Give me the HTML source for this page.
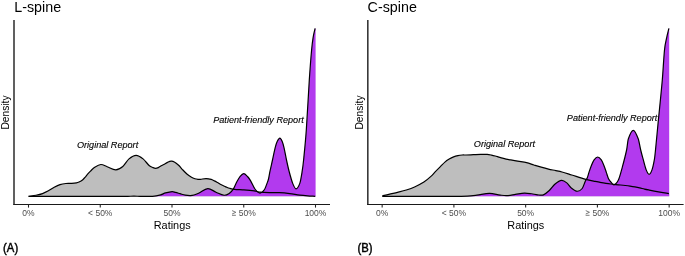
<!DOCTYPE html>
<html><head><meta charset="utf-8"><style>
html,body{margin:0;padding:0;background:#fff;}
body{width:685px;height:256px;overflow:hidden;}
svg{display:block;will-change:transform;}
text{font-family:"Liberation Sans",sans-serif;}
</style></head><body>
<svg width="685" height="256" viewBox="0 0 685 256">
<rect width="685" height="256" fill="#fff"/>
<!-- Left panel -->
<path d="M28.60,196.30 C31.07,195.95 33.53,195.73 36.00,195.25 C38.17,194.82 40.33,194.34 42.50,193.57 C44.47,192.87 46.43,191.89 48.40,190.84 C50.33,189.80 52.27,188.34 54.20,187.30 C56.13,186.26 58.07,185.23 60.00,184.60 C61.97,183.96 63.93,183.70 65.90,183.50 C67.83,183.30 69.77,183.51 71.70,183.40 C73.27,183.31 74.83,183.20 76.40,182.90 C77.27,182.73 78.13,182.41 79.00,182.00 C80.17,181.45 81.33,180.91 82.50,180.00 C83.33,179.35 84.17,178.25 85.00,177.30 C85.87,176.31 86.73,175.18 87.60,174.20 C88.57,173.11 89.53,172.05 90.50,171.10 C91.90,169.72 93.30,168.09 94.70,167.20 C96.77,165.89 98.83,164.57 100.90,164.50 C103.00,164.43 105.10,166.05 107.20,166.80 C110.07,167.83 112.93,169.91 115.80,169.85 C118.13,169.81 120.47,168.44 122.80,166.50 C124.87,164.79 126.93,160.64 129.00,158.90 C131.37,156.91 133.73,155.30 136.10,155.30 C138.43,155.30 140.77,157.06 143.10,158.90 C145.20,160.56 147.30,163.95 149.40,165.80 C150.60,166.85 151.80,167.11 153.00,167.60 C153.83,167.94 154.67,168.30 155.50,168.30 C156.43,168.30 157.37,168.01 158.30,167.60 C159.47,167.08 160.63,166.16 161.80,165.50 C162.63,165.03 163.47,164.65 164.30,164.20 C165.37,163.62 166.43,162.86 167.50,162.40 C168.73,161.86 169.97,161.29 171.20,161.20 C172.23,161.12 173.27,161.33 174.30,161.90 C175.73,162.69 177.17,163.95 178.60,165.30 C180.03,166.65 181.47,168.50 182.90,170.00 C184.33,171.50 185.77,173.08 187.20,174.30 C188.63,175.52 190.07,176.48 191.50,177.30 C192.63,177.95 193.77,178.35 194.90,178.70 C195.93,179.02 196.97,179.18 198.00,179.30 C198.73,179.38 199.47,179.36 200.20,179.30 C202.17,179.13 204.13,178.58 206.10,178.60 C207.80,178.62 209.50,178.93 211.20,179.40 C212.27,179.70 213.33,180.36 214.40,180.90 C215.43,181.42 216.47,182.02 217.50,182.60 C218.42,183.12 219.33,183.70 220.25,184.20 C221.30,184.77 222.35,185.31 223.40,185.80 C224.43,186.28 225.47,186.68 226.50,187.10 C227.53,187.52 228.57,187.95 229.60,188.30 C230.65,188.65 231.70,189.02 232.75,189.20 C234.17,189.45 235.58,189.51 237.00,189.60 C238.87,189.71 240.73,189.67 242.60,189.80 C246.50,190.08 250.40,190.33 254.30,190.84 C256.23,191.09 258.17,191.88 260.10,192.10 C263.40,192.48 266.70,192.54 270.00,192.62 C273.13,192.71 276.27,192.47 279.40,192.62 C282.83,192.79 286.27,193.14 289.70,193.57 C293.03,193.98 296.37,194.71 299.70,195.15 C302.30,195.48 304.90,195.69 307.50,195.88 C310.10,196.07 312.70,196.16 315.30,196.30 L315.60,196.30 L315.60,196.3 L28.60,196.3 Z" fill="#BEBEBE"/>
<path d="M28.60,196.30 C60.07,196.30 91.53,196.30 123.00,196.30 C124.67,196.30 126.33,196.32 128.00,196.30 C129.97,196.28 131.93,196.19 133.90,196.19 C135.93,196.19 137.97,196.29 140.00,196.30 C144.20,196.32 148.40,196.60 152.60,196.30 C155.30,196.11 158.00,195.53 160.70,194.83 C162.30,194.41 163.90,193.39 165.50,192.94 C167.73,192.31 169.97,191.69 172.20,191.57 C173.30,191.52 174.40,192.12 175.50,192.42 C177.00,192.82 178.50,193.26 180.00,193.68 C181.77,194.17 183.53,194.82 185.30,195.15 C187.00,195.45 188.70,195.59 190.40,195.56 C191.60,195.55 192.80,195.38 194.00,195.04 C195.53,194.61 197.07,193.97 198.60,193.25 C201.67,191.82 204.73,188.79 207.80,188.60 C210.53,188.44 213.27,191.09 216.00,192.20 C218.70,193.31 221.40,194.99 224.10,195.25 C225.80,195.41 227.50,194.58 229.20,193.47 C230.57,192.57 231.93,191.30 233.30,189.20 C234.53,187.31 235.77,183.82 237.00,181.50 C238.00,179.62 239.00,177.78 240.00,176.60 C241.23,175.15 242.47,173.62 243.70,173.60 C244.97,173.58 246.23,175.20 247.50,176.50 C248.50,177.53 249.50,178.93 250.50,180.60 C252.00,183.10 253.50,187.03 255.00,189.00 C256.67,191.18 258.33,192.96 260.00,193.05 C261.50,193.12 263.00,191.57 264.50,189.50 C265.33,188.35 266.17,185.59 267.00,183.40 C267.50,182.09 268.00,181.02 268.50,179.00 C268.97,177.12 269.43,173.92 269.90,171.70 C270.77,167.58 271.63,163.94 272.50,160.00 C273.40,155.91 274.30,151.14 275.20,147.60 C275.87,144.98 276.53,142.85 277.20,141.50 C278.10,139.68 279.00,138.10 279.90,138.10 C280.67,138.10 281.43,139.72 282.20,141.50 C282.80,142.89 283.40,145.02 284.00,147.60 C284.83,151.19 285.67,156.14 286.50,160.00 C287.40,164.17 288.30,168.30 289.20,171.70 C290.37,176.10 291.53,180.47 292.70,183.40 C293.80,186.17 294.90,188.80 296.00,188.80 C297.27,188.80 298.53,186.95 299.80,183.40 C300.57,181.25 301.33,176.42 302.10,171.70 C302.60,168.62 303.10,164.96 303.60,160.00 C304.50,151.06 305.40,142.63 306.30,130.00 C307.30,115.96 308.30,95.09 309.30,80.00 C310.07,68.43 310.83,58.55 311.60,50.00 C312.10,44.42 312.60,40.69 313.10,37.60 C313.77,33.49 314.43,31.47 315.10,28.40 L315.60,28.40 L315.60,196.3 L28.60,196.3 Z" fill="#B23AEE"/>
<path d="M28.60,196.30 C31.07,195.95 33.53,195.73 36.00,195.25 C38.17,194.82 40.33,194.34 42.50,193.57 C44.47,192.87 46.43,191.89 48.40,190.84 C50.33,189.80 52.27,188.34 54.20,187.30 C56.13,186.26 58.07,185.23 60.00,184.60 C61.97,183.96 63.93,183.70 65.90,183.50 C67.83,183.30 69.77,183.51 71.70,183.40 C73.27,183.31 74.83,183.20 76.40,182.90 C77.27,182.73 78.13,182.41 79.00,182.00 C80.17,181.45 81.33,180.91 82.50,180.00 C83.33,179.35 84.17,178.25 85.00,177.30 C85.87,176.31 86.73,175.18 87.60,174.20 C88.57,173.11 89.53,172.05 90.50,171.10 C91.90,169.72 93.30,168.09 94.70,167.20 C96.77,165.89 98.83,164.57 100.90,164.50 C103.00,164.43 105.10,166.05 107.20,166.80 C110.07,167.83 112.93,169.91 115.80,169.85 C118.13,169.81 120.47,168.44 122.80,166.50 C124.87,164.79 126.93,160.64 129.00,158.90 C131.37,156.91 133.73,155.30 136.10,155.30 C138.43,155.30 140.77,157.06 143.10,158.90 C145.20,160.56 147.30,163.95 149.40,165.80 C150.60,166.85 151.80,167.11 153.00,167.60 C153.83,167.94 154.67,168.30 155.50,168.30 C156.43,168.30 157.37,168.01 158.30,167.60 C159.47,167.08 160.63,166.16 161.80,165.50 C162.63,165.03 163.47,164.65 164.30,164.20 C165.37,163.62 166.43,162.86 167.50,162.40 C168.73,161.86 169.97,161.29 171.20,161.20 C172.23,161.12 173.27,161.33 174.30,161.90 C175.73,162.69 177.17,163.95 178.60,165.30 C180.03,166.65 181.47,168.50 182.90,170.00 C184.33,171.50 185.77,173.08 187.20,174.30 C188.63,175.52 190.07,176.48 191.50,177.30 C192.63,177.95 193.77,178.35 194.90,178.70 C195.93,179.02 196.97,179.18 198.00,179.30 C198.73,179.38 199.47,179.36 200.20,179.30 C202.17,179.13 204.13,178.58 206.10,178.60 C207.80,178.62 209.50,178.93 211.20,179.40 C212.27,179.70 213.33,180.36 214.40,180.90 C215.43,181.42 216.47,182.02 217.50,182.60 C218.42,183.12 219.33,183.70 220.25,184.20 C221.30,184.77 222.35,185.31 223.40,185.80 C224.43,186.28 225.47,186.68 226.50,187.10 C227.53,187.52 228.57,187.95 229.60,188.30 C230.65,188.65 231.70,189.02 232.75,189.20 C234.17,189.45 235.58,189.51 237.00,189.60 C238.87,189.71 240.73,189.67 242.60,189.80 C246.50,190.08 250.40,190.33 254.30,190.84 C256.23,191.09 258.17,191.88 260.10,192.10 C263.40,192.48 266.70,192.54 270.00,192.62 C273.13,192.71 276.27,192.47 279.40,192.62 C282.83,192.79 286.27,193.14 289.70,193.57 C293.03,193.98 296.37,194.71 299.70,195.15 C302.30,195.48 304.90,195.69 307.50,195.88 C310.10,196.07 312.70,196.16 315.30,196.30" fill="none" stroke="#000" stroke-width="1.2"/>
<path d="M28.60,196.30 C60.07,196.30 91.53,196.30 123.00,196.30 C124.67,196.30 126.33,196.32 128.00,196.30 C129.97,196.28 131.93,196.19 133.90,196.19 C135.93,196.19 137.97,196.29 140.00,196.30 C144.20,196.32 148.40,196.60 152.60,196.30 C155.30,196.11 158.00,195.53 160.70,194.83 C162.30,194.41 163.90,193.39 165.50,192.94 C167.73,192.31 169.97,191.69 172.20,191.57 C173.30,191.52 174.40,192.12 175.50,192.42 C177.00,192.82 178.50,193.26 180.00,193.68 C181.77,194.17 183.53,194.82 185.30,195.15 C187.00,195.45 188.70,195.59 190.40,195.56 C191.60,195.55 192.80,195.38 194.00,195.04 C195.53,194.61 197.07,193.97 198.60,193.25 C201.67,191.82 204.73,188.79 207.80,188.60 C210.53,188.44 213.27,191.09 216.00,192.20 C218.70,193.31 221.40,194.99 224.10,195.25 C225.80,195.41 227.50,194.58 229.20,193.47 C230.57,192.57 231.93,191.30 233.30,189.20 C234.53,187.31 235.77,183.82 237.00,181.50 C238.00,179.62 239.00,177.78 240.00,176.60 C241.23,175.15 242.47,173.62 243.70,173.60 C244.97,173.58 246.23,175.20 247.50,176.50 C248.50,177.53 249.50,178.93 250.50,180.60 C252.00,183.10 253.50,187.03 255.00,189.00 C256.67,191.18 258.33,192.96 260.00,193.05 C261.50,193.12 263.00,191.57 264.50,189.50 C265.33,188.35 266.17,185.59 267.00,183.40 C267.50,182.09 268.00,181.02 268.50,179.00 C268.97,177.12 269.43,173.92 269.90,171.70 C270.77,167.58 271.63,163.94 272.50,160.00 C273.40,155.91 274.30,151.14 275.20,147.60 C275.87,144.98 276.53,142.85 277.20,141.50 C278.10,139.68 279.00,138.10 279.90,138.10 C280.67,138.10 281.43,139.72 282.20,141.50 C282.80,142.89 283.40,145.02 284.00,147.60 C284.83,151.19 285.67,156.14 286.50,160.00 C287.40,164.17 288.30,168.30 289.20,171.70 C290.37,176.10 291.53,180.47 292.70,183.40 C293.80,186.17 294.90,188.80 296.00,188.80 C297.27,188.80 298.53,186.95 299.80,183.40 C300.57,181.25 301.33,176.42 302.10,171.70 C302.60,168.62 303.10,164.96 303.60,160.00 C304.50,151.06 305.40,142.63 306.30,130.00 C307.30,115.96 308.30,95.09 309.30,80.00 C310.07,68.43 310.83,58.55 311.60,50.00 C312.10,44.42 312.60,40.69 313.10,37.60 C313.77,33.49 314.43,31.47 315.10,28.40" fill="none" stroke="#000" stroke-width="1.2"/>
<line x1="14.0" y1="20" x2="14.0" y2="204.9" stroke="#000" stroke-width="1.25"/>
<line x1="13.4" y1="204.5" x2="330" y2="204.5" stroke="#1a1a1a" stroke-width="1.1"/>
<g stroke="#222" stroke-width="1.07">
<line x1="28.5" y1="204.4" x2="28.5" y2="207.6"/>
<line x1="100.25" y1="204.4" x2="100.25" y2="207.6"/>
<line x1="172.0" y1="204.4" x2="172.0" y2="207.6"/>
<line x1="243.75" y1="204.4" x2="243.75" y2="207.6"/>
<line x1="315.5" y1="204.4" x2="315.5" y2="207.6"/>
</g>
<g font-size="8.5" fill="#4D4D4D" text-anchor="middle">
<text x="28.5" y="215.8">0%</text>
<text x="100.25" y="215.8">&lt; 50%</text>
<text x="172.0" y="215.8">50%</text>
<text x="243.75" y="215.8"><tspan fill-opacity="0">&#8805;</tspan> 50%</text>
<text x="315.5" y="215.8">100%</text>
</g>
<text x="172.2" y="228.5" font-size="10.9" text-anchor="middle" fill="#000">Ratings</text>
<text transform="translate(8.85,112.5) rotate(-90)" font-size="10.25" text-anchor="middle" fill="#000">Density</text>
<text x="14.2" y="11.6" font-size="14.3" fill="#000">L-spine</text>
<g font-size="9.1" font-style="italic" fill="#000" stroke="#000" stroke-width="0.12" text-anchor="middle">
<text x="107.6" y="148.1">Original Report</text>
<text x="258.5" y="122.6">Patient-friendly Report</text>
</g>
<text transform="translate(3.1,252) scale(0.92,1)" font-size="12.3" fill="#000" stroke="#000" stroke-width="0.45">(A)</text>

<!-- Right panel -->
<path d="M382.30,195.98 C384.47,195.42 386.63,194.83 388.80,194.31 C391.70,193.60 394.60,193.02 397.50,192.31 C400.43,191.59 403.37,190.94 406.30,190.00 C409.23,189.06 412.17,188.02 415.10,186.70 C418.03,185.38 420.97,184.01 423.90,182.10 C426.23,180.58 428.57,178.53 430.90,176.40 C432.40,175.03 433.90,173.15 435.40,171.60 C437.13,169.81 438.87,168.13 440.60,166.40 C442.03,164.97 443.47,163.32 444.90,162.10 C446.33,160.88 447.77,159.96 449.20,159.10 C450.67,158.22 452.13,157.49 453.60,156.90 C455.03,156.32 456.47,155.92 457.90,155.60 C459.33,155.28 460.77,155.11 462.20,155.00 C463.47,154.91 464.73,155.03 466.00,155.00 C468.43,154.93 470.87,154.80 473.30,154.70 C475.73,154.60 478.17,154.45 480.60,154.40 C482.80,154.35 485.00,154.26 487.20,154.40 C488.63,154.49 490.07,154.81 491.50,155.10 C492.73,155.35 493.97,155.66 495.20,156.00 C496.40,156.33 497.60,156.74 498.80,157.10 C500.03,157.47 501.27,157.86 502.50,158.20 C503.70,158.53 504.90,158.84 506.10,159.10 C507.33,159.37 508.57,159.59 509.80,159.80 C510.53,159.92 511.27,159.98 512.00,160.10 C514.43,160.48 516.87,160.87 519.30,161.30 C521.73,161.73 524.17,162.08 526.60,162.70 C529.03,163.32 531.47,164.25 533.90,165.00 C536.33,165.75 538.77,166.52 541.20,167.20 C543.63,167.88 546.07,168.53 548.50,169.10 C550.93,169.67 553.37,170.08 555.80,170.60 C557.87,171.04 559.93,171.43 562.00,172.00 C565.23,172.89 568.47,174.01 571.70,175.00 C576.40,176.44 581.10,178.01 585.80,179.30 C588.90,180.15 592.00,180.75 595.10,181.40 C596.73,181.75 598.37,182.02 600.00,182.30 C602.00,182.65 604.00,182.99 606.00,183.30 C607.60,183.55 609.20,183.78 610.80,184.00 C612.40,184.22 614.00,184.44 615.60,184.60 C617.23,184.77 618.87,184.85 620.50,185.00 C622.10,185.15 623.70,185.31 625.30,185.50 C626.87,185.68 628.43,185.87 630.00,186.10 C631.63,186.34 633.27,186.60 634.90,186.90 C636.50,187.20 638.10,187.53 639.70,187.90 C641.30,188.27 642.90,188.73 644.50,189.10 C646.10,189.47 647.70,189.78 649.30,190.10 C650.93,190.43 652.57,190.75 654.20,191.05 C656.60,191.49 659.00,191.90 661.40,192.31 C663.90,192.74 666.40,193.15 668.90,193.57 L669.20,193.57 L669.20,196.3 L382.30,196.3 Z" fill="#BEBEBE"/>
<path d="M382.30,196.30 C404.87,196.30 427.43,196.36 450.00,196.30 C455.83,196.29 461.67,196.34 467.50,196.09 C470.63,195.96 473.77,195.53 476.90,195.15 C481.10,194.62 485.30,193.38 489.50,193.36 C493.07,193.34 496.63,194.56 500.20,195.04 C502.30,195.33 504.40,195.76 506.50,195.67 C509.47,195.55 512.43,194.85 515.40,194.41 C518.40,193.97 521.40,193.16 524.40,193.05 C526.83,192.95 529.27,193.45 531.70,193.78 C533.67,194.05 535.63,194.65 537.60,194.83 C539.53,195.00 541.47,195.54 543.40,194.83 C545.37,194.11 547.33,192.35 549.30,190.53 C551.23,188.74 553.17,185.59 555.10,184.00 C557.27,182.22 559.43,180.60 561.60,180.40 C563.33,180.24 565.07,181.55 566.80,182.90 C568.37,184.12 569.93,186.84 571.50,188.10 C573.40,189.63 575.30,191.19 577.20,191.26 C578.87,191.32 580.53,190.59 582.20,188.50 C583.27,187.17 584.33,183.28 585.40,181.00 C586.07,179.58 586.73,179.00 587.40,177.40 C587.90,176.20 588.40,174.10 588.90,172.60 C589.70,170.20 590.50,167.65 591.30,165.70 C592.23,163.42 593.17,161.17 594.10,159.90 C595.30,158.27 596.50,157.00 597.70,157.00 C598.90,157.00 600.10,158.24 601.30,159.90 C602.20,161.14 603.10,163.46 604.00,165.70 C604.80,167.69 605.60,170.29 606.40,172.60 C607.07,174.52 607.73,176.93 608.40,178.40 C609.07,179.87 609.73,180.61 610.40,181.40 C611.57,182.78 612.73,185.13 613.90,184.90 C615.43,184.60 616.97,183.00 618.50,179.80 C619.73,177.23 620.97,172.14 622.20,167.60 C623.67,162.20 625.13,156.88 626.60,150.00 C627.17,147.34 627.73,140.67 628.30,139.00 C629.97,134.10 631.63,130.30 633.30,130.30 C634.97,130.30 636.63,134.56 638.30,139.00 C639.10,141.13 639.90,146.67 640.70,150.00 C641.53,153.47 642.37,156.38 643.20,159.40 C644.20,163.02 645.20,167.36 646.20,169.90 C647.17,172.36 648.13,174.40 649.10,174.40 C650.07,174.40 651.03,172.64 652.00,169.90 C652.80,167.64 653.60,163.95 654.40,159.40 C654.77,157.32 655.13,153.60 655.50,150.00 C656.30,142.14 657.10,133.24 657.90,125.00 C659.37,109.90 660.83,96.67 662.30,80.00 C663.03,71.67 663.77,57.07 664.50,50.00 C665.23,42.93 665.97,41.20 666.70,37.60 C667.43,34.00 668.17,31.47 668.90,28.40 L669.20,28.40 L669.20,196.3 L382.30,196.3 Z" fill="#B23AEE"/>
<path d="M382.30,195.98 C384.47,195.42 386.63,194.83 388.80,194.31 C391.70,193.60 394.60,193.02 397.50,192.31 C400.43,191.59 403.37,190.94 406.30,190.00 C409.23,189.06 412.17,188.02 415.10,186.70 C418.03,185.38 420.97,184.01 423.90,182.10 C426.23,180.58 428.57,178.53 430.90,176.40 C432.40,175.03 433.90,173.15 435.40,171.60 C437.13,169.81 438.87,168.13 440.60,166.40 C442.03,164.97 443.47,163.32 444.90,162.10 C446.33,160.88 447.77,159.96 449.20,159.10 C450.67,158.22 452.13,157.49 453.60,156.90 C455.03,156.32 456.47,155.92 457.90,155.60 C459.33,155.28 460.77,155.11 462.20,155.00 C463.47,154.91 464.73,155.03 466.00,155.00 C468.43,154.93 470.87,154.80 473.30,154.70 C475.73,154.60 478.17,154.45 480.60,154.40 C482.80,154.35 485.00,154.26 487.20,154.40 C488.63,154.49 490.07,154.81 491.50,155.10 C492.73,155.35 493.97,155.66 495.20,156.00 C496.40,156.33 497.60,156.74 498.80,157.10 C500.03,157.47 501.27,157.86 502.50,158.20 C503.70,158.53 504.90,158.84 506.10,159.10 C507.33,159.37 508.57,159.59 509.80,159.80 C510.53,159.92 511.27,159.98 512.00,160.10 C514.43,160.48 516.87,160.87 519.30,161.30 C521.73,161.73 524.17,162.08 526.60,162.70 C529.03,163.32 531.47,164.25 533.90,165.00 C536.33,165.75 538.77,166.52 541.20,167.20 C543.63,167.88 546.07,168.53 548.50,169.10 C550.93,169.67 553.37,170.08 555.80,170.60 C557.87,171.04 559.93,171.43 562.00,172.00 C565.23,172.89 568.47,174.01 571.70,175.00 C576.40,176.44 581.10,178.01 585.80,179.30 C588.90,180.15 592.00,180.75 595.10,181.40 C596.73,181.75 598.37,182.02 600.00,182.30 C602.00,182.65 604.00,182.99 606.00,183.30 C607.60,183.55 609.20,183.78 610.80,184.00 C612.40,184.22 614.00,184.44 615.60,184.60 C617.23,184.77 618.87,184.85 620.50,185.00 C622.10,185.15 623.70,185.31 625.30,185.50 C626.87,185.68 628.43,185.87 630.00,186.10 C631.63,186.34 633.27,186.60 634.90,186.90 C636.50,187.20 638.10,187.53 639.70,187.90 C641.30,188.27 642.90,188.73 644.50,189.10 C646.10,189.47 647.70,189.78 649.30,190.10 C650.93,190.43 652.57,190.75 654.20,191.05 C656.60,191.49 659.00,191.90 661.40,192.31 C663.90,192.74 666.40,193.15 668.90,193.57" fill="none" stroke="#000" stroke-width="1.2"/>
<path d="M382.30,196.30 C404.87,196.30 427.43,196.36 450.00,196.30 C455.83,196.29 461.67,196.34 467.50,196.09 C470.63,195.96 473.77,195.53 476.90,195.15 C481.10,194.62 485.30,193.38 489.50,193.36 C493.07,193.34 496.63,194.56 500.20,195.04 C502.30,195.33 504.40,195.76 506.50,195.67 C509.47,195.55 512.43,194.85 515.40,194.41 C518.40,193.97 521.40,193.16 524.40,193.05 C526.83,192.95 529.27,193.45 531.70,193.78 C533.67,194.05 535.63,194.65 537.60,194.83 C539.53,195.00 541.47,195.54 543.40,194.83 C545.37,194.11 547.33,192.35 549.30,190.53 C551.23,188.74 553.17,185.59 555.10,184.00 C557.27,182.22 559.43,180.60 561.60,180.40 C563.33,180.24 565.07,181.55 566.80,182.90 C568.37,184.12 569.93,186.84 571.50,188.10 C573.40,189.63 575.30,191.19 577.20,191.26 C578.87,191.32 580.53,190.59 582.20,188.50 C583.27,187.17 584.33,183.28 585.40,181.00 C586.07,179.58 586.73,179.00 587.40,177.40 C587.90,176.20 588.40,174.10 588.90,172.60 C589.70,170.20 590.50,167.65 591.30,165.70 C592.23,163.42 593.17,161.17 594.10,159.90 C595.30,158.27 596.50,157.00 597.70,157.00 C598.90,157.00 600.10,158.24 601.30,159.90 C602.20,161.14 603.10,163.46 604.00,165.70 C604.80,167.69 605.60,170.29 606.40,172.60 C607.07,174.52 607.73,176.93 608.40,178.40 C609.07,179.87 609.73,180.61 610.40,181.40 C611.57,182.78 612.73,185.13 613.90,184.90 C615.43,184.60 616.97,183.00 618.50,179.80 C619.73,177.23 620.97,172.14 622.20,167.60 C623.67,162.20 625.13,156.88 626.60,150.00 C627.17,147.34 627.73,140.67 628.30,139.00 C629.97,134.10 631.63,130.30 633.30,130.30 C634.97,130.30 636.63,134.56 638.30,139.00 C639.10,141.13 639.90,146.67 640.70,150.00 C641.53,153.47 642.37,156.38 643.20,159.40 C644.20,163.02 645.20,167.36 646.20,169.90 C647.17,172.36 648.13,174.40 649.10,174.40 C650.07,174.40 651.03,172.64 652.00,169.90 C652.80,167.64 653.60,163.95 654.40,159.40 C654.77,157.32 655.13,153.60 655.50,150.00 C656.30,142.14 657.10,133.24 657.90,125.00 C659.37,109.90 660.83,96.67 662.30,80.00 C663.03,71.67 663.77,57.07 664.50,50.00 C665.23,42.93 665.97,41.20 666.70,37.60 C667.43,34.00 668.17,31.47 668.90,28.40" fill="none" stroke="#000" stroke-width="1.2"/>
<line x1="367.85" y1="20" x2="367.85" y2="204.9" stroke="#000" stroke-width="1.25"/>
<line x1="367.2" y1="204.5" x2="683.6" y2="204.5" stroke="#1a1a1a" stroke-width="1.1"/>
<g stroke="#222" stroke-width="1.07">
<line x1="382.15" y1="204.4" x2="382.15" y2="207.6"/>
<line x1="453.9" y1="204.4" x2="453.9" y2="207.6"/>
<line x1="525.65" y1="204.4" x2="525.65" y2="207.6"/>
<line x1="597.4" y1="204.4" x2="597.4" y2="207.6"/>
<line x1="669.15" y1="204.4" x2="669.15" y2="207.6"/>
</g>
<g font-size="8.5" fill="#4D4D4D" text-anchor="middle">
<text x="382.15" y="215.8">0%</text>
<text x="453.9" y="215.8">&lt; 50%</text>
<text x="525.65" y="215.8">50%</text>
<text x="597.4" y="215.8"><tspan fill-opacity="0">&#8805;</tspan> 50%</text>
<text x="669.15" y="215.8">100%</text>
</g>
<text x="525.8" y="228.5" font-size="10.9" text-anchor="middle" fill="#000">Ratings</text>
<text transform="translate(362.5,112.5) rotate(-90)" font-size="10.25" text-anchor="middle" fill="#000">Density</text>
<text x="367.6" y="11.6" font-size="14.3" fill="#000">C-spine</text>
<g font-size="9.1" font-style="italic" fill="#000" stroke="#000" stroke-width="0.12" text-anchor="middle">
<text x="504.4" y="146.7">Original Report</text>
<text x="612.1" y="120.6">Patient-friendly Report</text>
</g>
<text transform="translate(357.4,252) scale(0.92,1)" font-size="12.3" fill="#000" stroke="#000" stroke-width="0.45">(B)</text>
<g fill="none" stroke="#4D4D4D" stroke-width="0.75">
<path d="M232.1,210.6 L235.8,212.3 L232.1,214.0 M232.0,215.3 L235.9,215.3"/>
<path d="M585.75,210.6 L589.45,212.3 L585.75,214.0 M585.65,215.3 L589.55,215.3"/>
</g>
</svg>
</body></html>
